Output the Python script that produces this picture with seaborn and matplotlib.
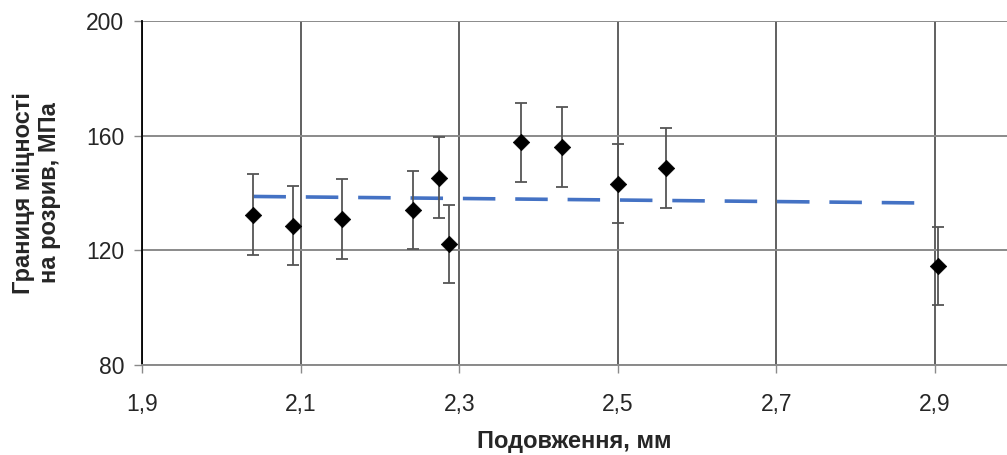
import matplotlib
matplotlib.use("Agg")
import matplotlib.pyplot as plt
from matplotlib.ticker import FuncFormatter, FixedLocator
import seaborn as sns
import pandas as pd

# ---- data ----
elongation = [2.039, 2.090, 2.152, 2.241, 2.274, 2.287, 2.378, 2.429, 2.500, 2.561, 2.904]
strength = [132.5, 128.6, 131.0, 134.2, 145.4, 122.2, 157.7, 156.0, 143.2, 148.7, 114.6]
err = [14.0, 13.7, 14.0, 13.6, 14.0, 13.7, 13.8, 14.0, 13.8, 14.0, 13.6]
trend_x = [2.04, 2.89]
trend_y = [138.8, 136.5]
x_ticks = [1.9, 2.1, 2.3, 2.5, 2.7, 2.9]
y_ticks = [80, 120, 160, 200]
x_label = "Подовження, мм"
y_label = "Границя міцності\nна розрив, МПа"

sns.set_theme(style="white")
plt.rcParams["font.family"] = ["Liberation Sans", "DejaVu Sans"]

fig = plt.figure(figsize=(10.07, 4.55), dpi=100)
ax = fig.add_axes([0.1415, 0.1978, 1.0 - 0.1415, 0.756])

df = pd.DataFrame({"x": elongation, "y": strength})
tr = pd.DataFrame({"x": trend_x, "y": trend_y})

ax.errorbar(elongation, strength, yerr=err, fmt="none", ecolor="#555555",
            elinewidth=1.3, capsize=4.5, capthick=1.3, zorder=3)
sns.lineplot(data=tr, x="x", y="y", ax=ax, color="#4472C4", linewidth=2.6,
             dashes=False, zorder=2)
ax.lines[-1].set_dashes([9, 5.5])
sns.scatterplot(data=df, x="x", y="y", ax=ax, marker="D", s=70, color="black",
                edgecolor="black", linewidth=0.5, zorder=4)

ax.set_xlim(1.9, 1.9 + (1007 - 142.5) / 792.5)
ax.set_ylim(80, 200)
ax.xaxis.set_major_locator(FixedLocator(x_ticks))
ax.yaxis.set_major_locator(FixedLocator(y_ticks))
ax.xaxis.set_major_formatter(FuncFormatter(lambda v, p: f"{v:.1f}".replace(".", ",")))
ax.yaxis.set_major_formatter(FuncFormatter(lambda v, p: f"{int(v)}"))

ax.grid(True, axis="y", color="#8a8a8a", linewidth=1.4)
ax.grid(True, axis="x", color="#454545", linewidth=1.2)
ax.set_axisbelow(True)

for s in ["top", "right"]:
    ax.spines[s].set_visible(False)
ax.spines["left"].set_color("black")
ax.spines["left"].set_linewidth(1.3)
ax.spines["bottom"].set_color("#8a8a8a")
ax.spines["bottom"].set_linewidth(1.4)

ax.tick_params(axis="y", which="major", direction="out", length=6, width=1.0,
               color="#8a8a8a", labelsize=16.5, pad=7, left=True)
ax.tick_params(axis="x", which="major", direction="out", length=6, width=1.0,
               color="#8a8a8a", labelsize=16.5, pad=14, bottom=True)

ax.set_xlabel(x_label, fontsize=17, fontweight="bold", labelpad=10)
ax.set_ylabel(y_label, fontsize=17, fontweight="bold", labelpad=18, linespacing=1.15)

fig.savefig("out.png", dpi=100)
